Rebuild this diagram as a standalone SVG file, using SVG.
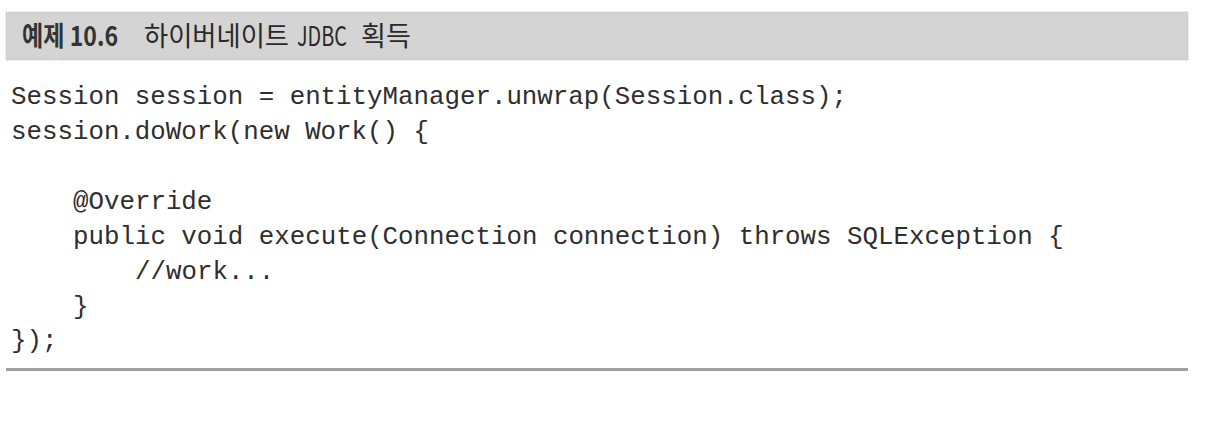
<svg xmlns="http://www.w3.org/2000/svg" width="1212" height="422" viewBox="0 0 1212 422">
<style>
.code{font-family:"Liberation Mono","Courier New",monospace;font-size:25.8px;fill:#2e2e2e;white-space:pre}
.hd{font-family:"Noto Sans CJK KR","Noto Sans",sans-serif;font-size:27px;fill:#2a2a2a}
.hdb{font-weight:bold;fill:#333333}
</style>
<rect x="0" y="0" width="1212" height="422" fill="#ffffff"/>
<g id="header">
<rect x="6" y="12" width="1182" height="48" fill="#d4d4d4" stroke="#bdbdbd" stroke-width="1" stroke-dasharray="1 1"/>
<text class="hd" x="22" y="46"><tspan class="hdb" textLength="96" lengthAdjust="spacingAndGlyphs">예제 10.6</tspan><tspan x="144" textLength="145" lengthAdjust="spacingAndGlyphs">하이버네이트</tspan><tspan x="297" textLength="50" lengthAdjust="spacingAndGlyphs">JDBC</tspan><tspan x="361" textLength="50" lengthAdjust="spacingAndGlyphs">획득</tspan></text>
</g>
<g id="code">
<text class="code" x="11" y="104">Session session = entityManager.unwrap(Session.class);</text>
<text class="code" x="11" y="139">session.doWork(new Work() {</text>
<text class="code" x="73" y="209">@Override</text>
<text class="code" x="73" y="244">public void execute(Connection connection) throws SQLException {</text>
<text class="code" x="135" y="279">//work...</text>
<text class="code" x="73" y="314">}</text>
<text class="code" x="11" y="348">});</text>
</g>
<g id="rule">
<rect x="6" y="368" width="1182" height="3" fill="#a0a0a0"/>
</g>
</svg>
